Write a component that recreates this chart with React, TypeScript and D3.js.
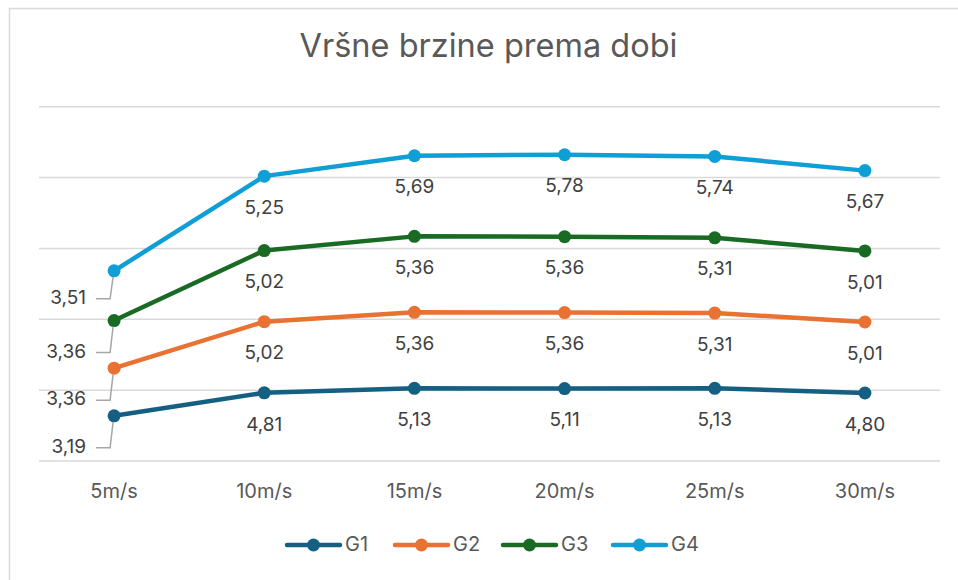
import React from "react";
import * as d3 from "d3";

const categories = ["5m/s", "10m/s", "15m/s", "20m/s", "25m/s", "30m/s"];
const seriesNames = ["G1", "G2", "G3", "G4"];
const g1 = [3.19, 4.81, 5.13, 5.11, 5.13, 4.8];
const g2 = [3.36, 5.02, 5.36, 5.36, 5.31, 5.01];
const g3 = [3.36, 5.02, 5.36, 5.36, 5.31, 5.01];
const g4 = [3.51, 5.25, 5.69, 5.78, 5.74, 5.67];
const yTicks = [0, 5, 10, 15, 20, 25];
const colors = ["#156082", "#E97132", "#196B24", "#0F9ED5"];

const W = 958;
const H = 580;
const FONT = "Inter, 'Open Sans', sans-serif";
const TXT = "#595959";

export default function App() {
  const series = [g1, g2, g3, g4];
  const stacked: number[][] = [];
  series.forEach((s, i) => {
    stacked.push(s.map((v, j) => (i === 0 ? v : stacked[i - 1][j] + v)));
  });

  const x = d3.scaleBand<string>().domain(categories).range([39, 940]);
  const y = d3.scaleLinear().domain([0, 25]).range([461, 106.7]);
  const cx = (c: string) => (x(c) as number) + x.bandwidth() / 2;
  const line = d3
    .line<number>()
    .x((_, j) => cx(categories[j]))
    .y((d) => y(d));

  const fmt = (v: number) => v.toFixed(2).replace(".", ",");
  const labelOff = 32.5;

  const legendX = [287, 395, 503, 613];

  return (
    <svg
      width={W}
      height={H}
      style={{ position: "absolute", left: 0, top: 0, background: "#fff" }}
      fontFamily={FONT}
    >
      <rect x={9.5} y={8.5} width={980} height={600} fill="#fff" stroke="#d9d9d9" strokeWidth={1.5} />
      <text x={488.5} y={57} textAnchor="middle" fontSize={32.5} fill={TXT}>
        Vršne brzine prema dobi
      </text>
      {yTicks.map((t) => (
        <line key={t} x1={39} x2={940} y1={y(t)} y2={y(t)} stroke="#d9d9d9" strokeWidth={1.5} />
      ))}
      {categories.map((c) => (
        <text key={c} x={cx(c)} y={493} textAnchor="middle" dominantBaseline="middle" fontSize={20} fill={TXT}>
          {c}
        </text>
      ))}
      {stacked.map((s, i) => (
        <g key={i}>
          <path d={line(s) as string} fill="none" stroke={colors[i]} strokeWidth={4.5} strokeLinejoin="round" strokeLinecap="round" />
          {s.map((v, j) => (
            <circle key={j} cx={cx(categories[j])} cy={y(v)} r={6.5} fill={colors[i]} />
          ))}
        </g>
      ))}
      {stacked.map((s, i) =>
        s.map((v, j) => {
          const px = cx(categories[j]);
          const py = y(v);
          if (j === 0) {
            const off = i === 3 ? 28 : 32;
            return (
              <g key={`${i}-${j}`}>
                <polyline
                  points={`${px - 1},${py + 6} ${px - 4},${py + off} ${px - 18},${py + off}`}
                  fill="none"
                  stroke="#a6a6a6"
                  strokeWidth={1.5}
                />
                <text x={px - 28} y={py + off} textAnchor="end" dominantBaseline="middle" fontSize={19} fill="#404040">
                  {fmt(series[i][j])}
                </text>
              </g>
            );
          }
          return (
            <text key={`${i}-${j}`} x={px} y={py + labelOff} textAnchor="middle" dominantBaseline="middle" fontSize={19} fill="#404040">
              {fmt(series[i][j])}
            </text>
          );
        })
      )}
      {seriesNames.map((n, i) => (
        <g key={n}>
          <line x1={legendX[i]} x2={legendX[i] + 53} y1={545} y2={545} stroke={colors[i]} strokeWidth={4.5} strokeLinecap="round" />
          <circle cx={legendX[i] + 26.5} cy={545} r={6.5} fill={colors[i]} />
          <text x={legendX[i] + 58} y={546} dominantBaseline="middle" fontSize={20} fill={TXT}>
            {n}
          </text>
        </g>
      ))}
    </svg>
  );
}
